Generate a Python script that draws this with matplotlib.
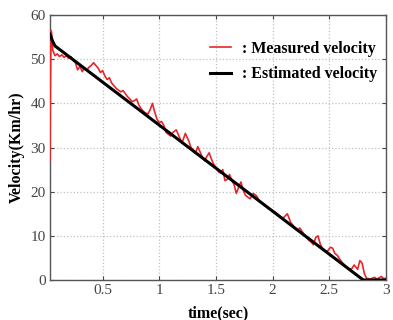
import matplotlib
matplotlib.use("Agg")
import matplotlib.pyplot as plt

plt.rcParams['font.family'] = ['Liberation Serif', 'DejaVu Serif']

# Measured velocity (red)
t_meas = [0.035, 0.04, 0.045, 0.05, 0.06, 0.08, 0.10, 0.12, 0.14, 0.16, 0.18, 0.20, 0.22, 0.24,
          0.26, 0.28, 0.30, 0.32, 0.34, 0.36, 0.38, 0.40, 0.42, 0.44, 0.46, 0.48, 0.50, 0.52,
          0.54, 0.56, 0.58, 0.60, 0.62, 0.64, 0.66, 0.68, 0.70, 0.72, 0.74, 0.76, 0.78, 0.80,
          0.82, 0.84, 0.86, 0.88, 0.90, 0.92, 0.94, 0.96, 0.98, 1.00, 1.02, 1.04, 1.06, 1.08,
          1.10, 1.12, 1.15, 1.18, 1.20, 1.23, 1.26, 1.28, 1.30, 1.32, 1.34, 1.36, 1.38, 1.40,
          1.42, 1.44, 1.46, 1.48, 1.50, 1.52, 1.54, 1.56, 1.58, 1.60, 1.62, 1.64, 1.66, 1.68,
          1.70, 1.72, 1.74, 1.76, 1.78, 1.80, 1.83, 1.86, 1.88, 1.90, 1.93, 1.96, 1.99, 2.02,
          2.05, 2.08, 2.10, 2.13, 2.16, 2.18, 2.20, 2.22, 2.24, 2.26, 2.28, 2.30, 2.32, 2.34,
          2.36, 2.38, 2.40, 2.42, 2.44, 2.46, 2.48, 2.51, 2.53, 2.55, 2.57, 2.59, 2.62, 2.65,
          2.67, 2.70, 2.72, 2.75, 2.77, 2.79, 2.81, 2.83, 2.86, 2.88, 2.90, 2.92, 2.94, 2.96,
          2.98, 3.00]
v_meas = [27.0, 45.0, 56.5, 56.0, 52.0, 50.8, 51.2, 50.6, 51.0, 50.4, 50.8, 50.2, 50.6, 49.8,
          49.2, 47.6, 48.4, 47.2, 48.0, 47.5, 48.2, 48.6, 49.2, 48.6, 48.0, 47.0, 47.4, 46.2,
          45.4, 45.8, 44.6, 44.0, 43.4, 43.0, 42.6, 42.9, 42.2, 41.5, 41.0, 40.4, 40.6, 41.0,
          39.6, 38.8, 38.2, 37.8, 37.6, 38.6, 40.0, 38.0, 36.4, 35.6, 35.9, 35.0, 33.4, 33.0,
          32.6, 33.4, 34.0, 32.2, 31.0, 33.2, 31.5, 30.0, 29.4, 28.8, 30.2, 29.0, 27.8, 27.0,
          28.0, 28.8, 27.4, 26.2, 25.5, 24.6, 24.2, 25.0, 22.5, 22.8, 23.9, 22.6, 21.6, 19.6,
          21.0, 22.2, 20.4, 19.2, 18.8, 18.4, 19.6, 19.0, 18.0, 17.6, 17.0, 16.4, 15.8, 15.4,
          14.8, 14.0, 14.2, 15.0, 13.0, 12.4, 11.6, 11.2, 11.8, 11.0, 10.2, 9.6, 9.0, 8.6,
          8.0, 9.6, 10.0, 8.2, 7.0, 6.6, 6.4, 7.4, 7.2, 6.0, 5.6, 4.8, 3.8, 3.0,
          2.4, 2.6, 3.4, 2.4, 4.4, 3.8, 1.4, 0.4, 0.2, 0.4, 0.6, 0.2, 0.5, 0.8,
          0.3, 0.4]

# Estimated velocity (black)
t_est = [0.035, 0.06, 0.08, 2.80, 3.00]
v_est = [55.7, 54.0, 53.0, 0.0, 0.0]

x_ticks = [0.5, 1, 1.5, 2, 2.5, 3]
x_ticklabels = ['0.5', '1', '1.5', '2', '2.5', '3']
y_ticks = [0, 10, 20, 30, 40, 50, 60]

fig = plt.figure(figsize=(3.93, 3.2), dpi=100)
ax = fig.add_axes([0.127, 0.125, 0.855, 0.828])

ax.plot(t_meas, v_meas, color='#e8262a', lw=1.2, label='  : Measured velocity', zorder=3)
ax.plot(t_est, v_est, color='black', lw=2.2, label='  : Estimated velocity', zorder=4)

ax.set_xlim(0.035, 3.0)
ax.set_ylim(0, 60)
ax.set_xticks(x_ticks)
ax.set_xticklabels(x_ticklabels)
ax.set_yticks(y_ticks)
ax.grid(True, linestyle=':', color='#c0c0c0', lw=0.9)
ax.tick_params(direction='in', length=3, labelsize=11, colors='#444444', top=True, right=True, pad=3)
for s in ax.spines.values():
    s.set_color('#555555')
    s.set_linewidth(1.0)

ax.set_xlabel('time(sec)', fontsize=11.5, fontweight='bold', labelpad=6)
ax.set_ylabel('Velocity(Km/hr)', fontsize=11.5, fontweight='bold', labelpad=4)

leg = ax.legend(loc='upper right', frameon=False, prop={'weight': 'bold', 'size': 11.5},
                handlelength=1.3, handletextpad=0.2, borderaxespad=1.2, labelspacing=0.6,
                bbox_to_anchor=(1.05, 1.0))

fig.savefig('out.png', dpi=100)
